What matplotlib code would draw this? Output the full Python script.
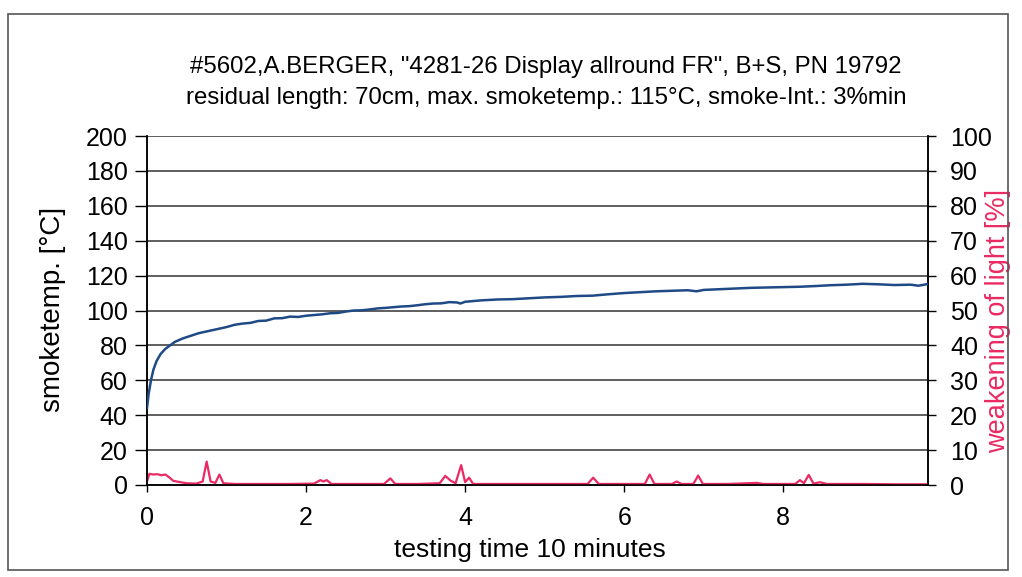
import matplotlib
matplotlib.use("Agg")
import matplotlib.pyplot as plt
from matplotlib.patches import Rectangle

# ---- data ----
temp_time = [0.00, 0.02, 0.05, 0.08, 0.12, 0.17, 0.23, 0.29, 0.35, 0.45, 0.55, 0.65, 0.75, 0.85,
             1.0, 1.1, 1.2, 1.3, 1.4, 1.5, 1.6, 1.7, 1.8, 1.9, 2.0, 2.1, 2.2, 2.3, 2.4, 2.5, 2.6, 2.7,
             2.8, 2.9, 3.0, 3.1, 3.2, 3.3, 3.4, 3.5, 3.6, 3.7, 3.8, 3.9, 3.94,
             4.0, 4.2, 4.4, 4.6, 4.8, 5.0, 5.2, 5.4, 5.6, 5.8, 6.0, 6.2, 6.4, 6.6, 6.8, 6.91,
             7.0, 7.2, 7.4, 7.6, 7.8, 8.0, 8.2, 8.4, 8.6, 8.8, 9.0, 9.2, 9.4, 9.6, 9.7, 9.82]
temp_vals = [44, 52, 60, 66, 71, 75, 78, 80, 82, 84, 85.5, 87, 88, 89,
             90.5, 91.8, 92.5, 92.9, 94, 94.2, 95.5, 95.6, 96.5, 96.3, 97, 97.4, 97.8, 98.4, 98.6, 99.4, 100, 100.1,
             100.6, 101.2, 101.5, 101.9, 102.3, 102.5, 103, 103.6, 104, 104.1, 104.8, 104.6, 104,
             105, 105.8, 106.3, 106.5, 107, 107.5, 107.8, 108.3, 108.5, 109.3, 110, 110.5, 111, 111.3, 111.6, 111,
             111.8, 112.2, 112.6, 113, 113.2, 113.4, 113.6, 114, 114.5, 114.8, 115.3, 115, 114.6, 114.8, 114.2, 115.2]

light_time = [0.00, 0.03, 0.08, 0.13, 0.18, 0.23, 0.28, 0.33, 0.42, 0.50, 0.62, 0.70, 0.75, 0.80,
              0.86, 0.91, 0.96, 1.10, 1.40, 1.80, 2.10, 2.18, 2.22, 2.26, 2.32, 2.60, 2.98, 3.06,
              3.12, 3.40, 3.68, 3.75, 3.82, 3.88, 3.95, 4.00, 4.05, 4.10, 4.40, 5.00, 5.54, 5.61,
              5.68, 6.00, 6.26, 6.32, 6.38, 6.60, 6.66, 6.72, 6.87, 6.93, 6.99, 7.30, 7.67, 7.75,
              8.15, 8.21, 8.26, 8.32, 8.38, 8.46, 8.55, 9.00, 9.40, 9.82]
light_vals = [1.0, 3.2, 3.0, 3.1, 2.8, 3.0, 2.2, 1.2, 0.8, 0.5, 0.4, 1.0, 6.7, 1.0,
              0.6, 3.0, 0.5, 0.3, 0.3, 0.3, 0.4, 1.4, 1.0, 1.4, 0.3, 0.3, 0.3, 1.9,
              0.3, 0.3, 0.5, 2.6, 1.2, 0.5, 5.7, 0.8, 2.1, 0.3, 0.3, 0.3, 0.3, 2.1,
              0.3, 0.3, 0.3, 3.0, 0.3, 0.3, 1.0, 0.3, 0.3, 2.7, 0.3, 0.3, 0.6, 0.3,
              0.3, 1.4, 0.5, 2.9, 0.4, 0.8, 0.3, 0.3, 0.2, 0.2]

x_ticks = [0, 2, 4, 6, 8]
left_ticks = list(range(0, 201, 20))
right_ticks = list(range(0, 101, 10))

title_lines = ['#5602,A.BERGER, "4281-26 Display allround FR", B+S, PN 19792',
               'residual length: 70cm, max. smoketemp.: 115°C, smoke-Int.: 3%min']

BLUE = "#1f4a86"
PINK = "#ea2a62"

plt.rcParams['font.family'] = ['Liberation Sans', 'DejaVu Sans']

W, H = 1022, 577
fig = plt.figure(figsize=(W / 100, H / 100), dpi=100)
ax = fig.add_axes([147 / W, 1 - 485 / H, (928 - 147) / W, (485 - 136) / H])
ax2 = ax.twinx()

ax.set_xlim(0, 9.82)
ax.set_ylim(0, 200)
ax2.set_ylim(0, 100)

ax.set_yticks(left_ticks)
ax2.set_yticks(right_ticks)
ax.set_xticks(x_ticks)

for y in left_ticks[1:]:
    ax.axhline(y, color="#333333", lw=1.1, zorder=1)

ax2.plot(light_time, light_vals, color=PINK, lw=1.6, zorder=3)
ax.plot(temp_time, temp_vals, color=BLUE, lw=1.8, zorder=4)
ax.set_zorder(ax2.get_zorder() + 1)
ax.patch.set_visible(False)

for a in (ax, ax2):
    for s in a.spines.values():
        s.set_color("black")
        s.set_linewidth(1.1)
    a.spines['top'].set_visible(False)

ax.tick_params(axis='y', labelsize=18, length=8.5, width=1, pad=5.5)
ax.tick_params(axis='x', labelsize=18, length=5, width=1, pad=10)
ax2.tick_params(axis='y', labelsize=18, length=5.8, width=1, pad=10)

ax.set_ylabel("smoketemp. [°C]", fontsize=20)
ax.yaxis.set_label_coords(-0.120, 0.504)
ax.yaxis.label.set_va('center')
ax2.set_ylabel("weakening of light [%]", fontsize=19.5, color=PINK)
ax2.yaxis.set_label_coords(1.0896, 0.47)
ax2.yaxis.label.set_va('center')
ax.set_xlabel("testing time 10 minutes", fontsize=19)
ax.xaxis.set_label_coords((530 - 147) / 781, (485 - 550) / 349)
ax.xaxis.label.set_va('center')

fig.text(546 / W, 1 - 67 / H, title_lines[0], ha="center", va="center", fontsize=17.3)
fig.text(546 / W, 1 - 98 / H, title_lines[1], ha="center", va="center", fontsize=17.3)

fig.patches.append(Rectangle((8 / W, 1 - 570 / H), (1008 - 8) / W, (570 - 14) / H,
                             transform=fig.transFigure, fill=False, edgecolor="#555555", lw=1.2))

fig.savefig("out.png", dpi=100)
